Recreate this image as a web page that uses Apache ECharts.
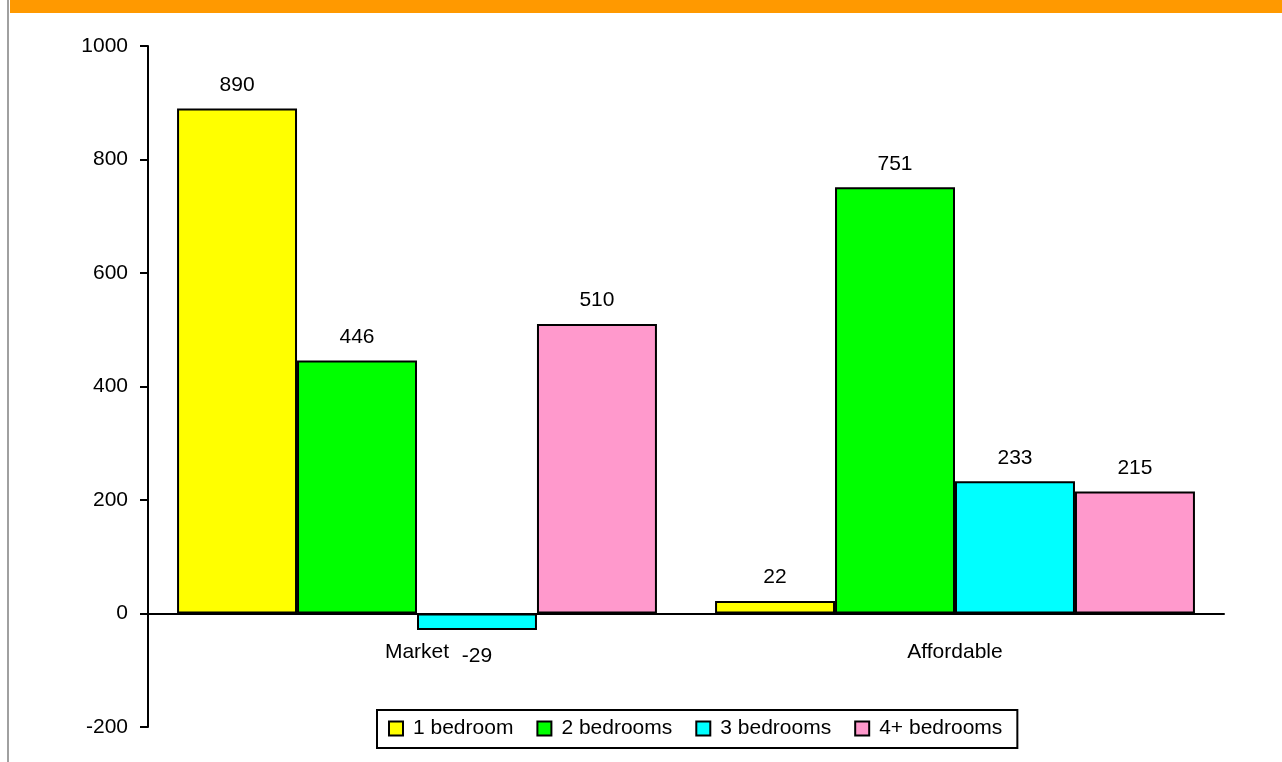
<!DOCTYPE html>
<html><head><meta charset="utf-8">
<script src="https://cdn.jsdelivr.net/npm/echarts@6/dist/echarts.min.js"></script>
<style>html,body{margin:0;padding:0;background:#fff}#c{width:1282px;height:762px}</style>
</head><body><div id="c"></div>
<script>
const categories = ['Market', 'Affordable'];
const seriesNames = ['1 bedroom', '2 bedrooms', '3 bedrooms', '4+ bedrooms'];
const oneBed = [890, 22];
const twoBed = [446, 751];
const threeBed = [-29, 233];
const fourBed = [510, 215];
const colors = ['#FFFF00', '#00FF00', '#00FFFF', '#FF99CC'];
const yMin = -200, yMax = 1000, yStep = 200;

const chart = echarts.init(document.getElementById('c'));
const font = '"Liberation Sans", Arial, sans-serif';
const fs = 21;
const gridTop = 46, gridBottom = 35, H = 762;
const plotH = H - gridTop - gridBottom;
const zeroOffset = -(0 - yMin) / (yMax - yMin) * plotH;
function mk(name, vals, color) {
  return {
    name, type: 'bar', data: vals.map(v => v < 0 ? {value: v, label: {position: 'bottom', distance: 16}} : v),
    barGap: '0%', barCategoryGap: '10.8%',
    itemStyle: {color, borderColor: '#000', borderWidth: 2},
    label: {show: true, position: 'top', distance: 13, color: '#000', fontSize: fs, fontFamily: font},
    emphasis: {disabled: true}
  };
}
chart.setOption({
  animation: false,
  graphic: [
    {type: 'rect', shape: {x: 10, y: 0, width: 1272, height: 13}, style: {fill: '#FF9900'}},
    {type: 'rect', shape: {x: 7, y: 0, width: 2, height: 762}, style: {fill: '#A0A0A0'}}
  ],
  grid: {left: 148, right: 58, top: gridTop, bottom: gridBottom, containLabel: false, outerBoundsMode: 'none'},
  legend: {
    data: seriesNames, left: 377, top: 710,
    backgroundColor: '#fff', borderColor: '#000', borderWidth: 2, padding: [8, 15, 9, 11],
    itemWidth: 14, itemHeight: 14, itemGap: 23,
    textStyle: {fontSize: fs, color: '#000', fontFamily: font, padding: [0, 0, 0, 5]},
    itemStyle: {borderColor: '#000', borderWidth: 2},
    icon: 'rect'
  },
  xAxis: {
    type: 'category', data: categories,
    offset: zeroOffset,
    axisLine: {onZero: false, lineStyle: {color: '#000', width: 2}},
    axisTick: {length: 8, lineStyle: {color: '#000', width: 2}},
    axisLabel: {color: '#000', fontSize: fs, fontFamily: font, margin: 28}
  },
  yAxis: {
    type: 'value', min: yMin, max: yMax, interval: yStep,
    axisLine: {show: true, lineStyle: {color: '#000', width: 2}},
    axisTick: {show: true, length: 8, lineStyle: {color: '#000', width: 2}},
    splitLine: {show: false},
    axisLabel: {color: '#000', fontSize: fs, fontFamily: font, margin: 20, formatter: v => String(v)}
  },
  series: [
    mk(seriesNames[0], oneBed, colors[0]),
    mk(seriesNames[1], twoBed, colors[1]),
    mk(seriesNames[2], threeBed, colors[2]),
    mk(seriesNames[3], fourBed, colors[3])
  ]
});
</script></body></html>
